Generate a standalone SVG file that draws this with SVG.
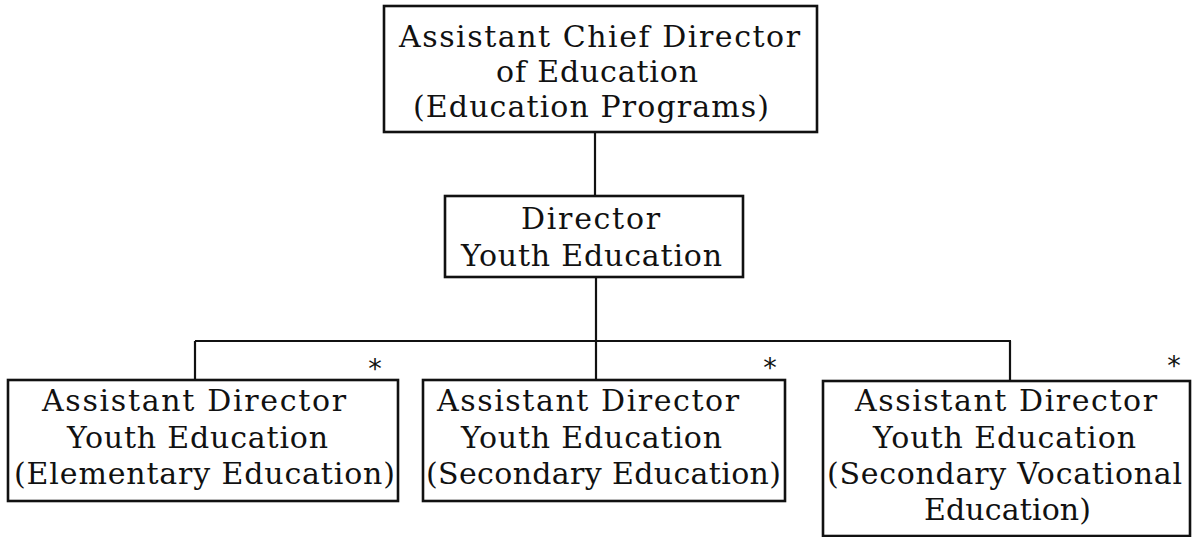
<svg xmlns="http://www.w3.org/2000/svg" width="1192" height="537" viewBox="0 0 1192 537">
  <style>
    .box { fill: #ffffff; stroke: #111111; stroke-width: 2.6; }
    .wire { fill: none; stroke: #111111; stroke-width: 2.2; }
    .label { font-family: "DejaVu Serif", "Liberation Serif", serif; font-size: 30px; fill: #111111; text-anchor: middle; }
    .star { font-family: "DejaVu Sans", sans-serif; font-size: 27px; fill: #111111; text-anchor: middle; }
  </style>
  <rect x="0" y="0" width="1192" height="537" fill="#ffffff"/>

  <!-- reporting lines -->
  <g id="connectors">
    <line class="wire" x1="595" y1="132" x2="595" y2="196"/>
    <line class="wire" x1="596" y1="277" x2="596" y2="380"/>
    <line class="wire" x1="195" y1="341" x2="1011" y2="341"/>
    <line class="wire" x1="195" y1="341" x2="195" y2="379"/>
    <line class="wire" x1="1010" y1="341" x2="1010" y2="381"/>
  </g>

  <g id="assistant-chief-director">
    <rect class="box" x="384" y="6" width="433" height="126"/>
    <text class="label" x="599.5" y="47" textLength="401">Assistant Chief Director</text>
    <text class="label" x="597" y="82" textLength="202">of Education</text>
    <text class="label" x="591" y="117" textLength="356">(Education Programs)</text>
  </g>

  <g id="director-youth-education">
    <rect class="box" x="445" y="196" width="298" height="81"/>
    <text class="label" x="590.5" y="229" textLength="139">Director</text>
    <text class="label" x="591.5" y="266" textLength="261">Youth Education</text>
  </g>

  <g id="elementary">
    <rect class="box" x="8" y="380" width="390" height="121"/>
    <text class="label" x="194" y="411" textLength="304">Assistant Director</text>
    <text class="label" x="197.5" y="448" textLength="261">Youth Education</text>
    <text class="label" x="204.5" y="484" textLength="381">(Elementary Education)</text>
    <text class="star" x="375" y="378">*</text>
  </g>

  <g id="secondary">
    <rect class="box" x="423" y="380" width="362" height="121"/>
    <text class="label" x="588" y="411" textLength="302">Assistant Director</text>
    <text class="label" x="591.5" y="448" textLength="261">Youth Education</text>
    <text class="label" x="603.5" y="484" textLength="355">(Secondary Education)</text>
    <text class="star" x="770" y="377">*</text>
  </g>

  <g id="secondary-vocational">
    <rect class="box" x="823" y="381" width="367" height="155"/>
    <text class="label" x="1006" y="411" textLength="302">Assistant Director</text>
    <text class="label" x="1004.5" y="448" textLength="263">Youth Education</text>
    <text class="label" x="1004.5" y="484" textLength="355">(Secondary Vocational</text>
    <text class="label" x="1007.5" y="520" textLength="167">Education)</text>
    <text class="star" x="1174" y="375">*</text>
  </g>
</svg>
